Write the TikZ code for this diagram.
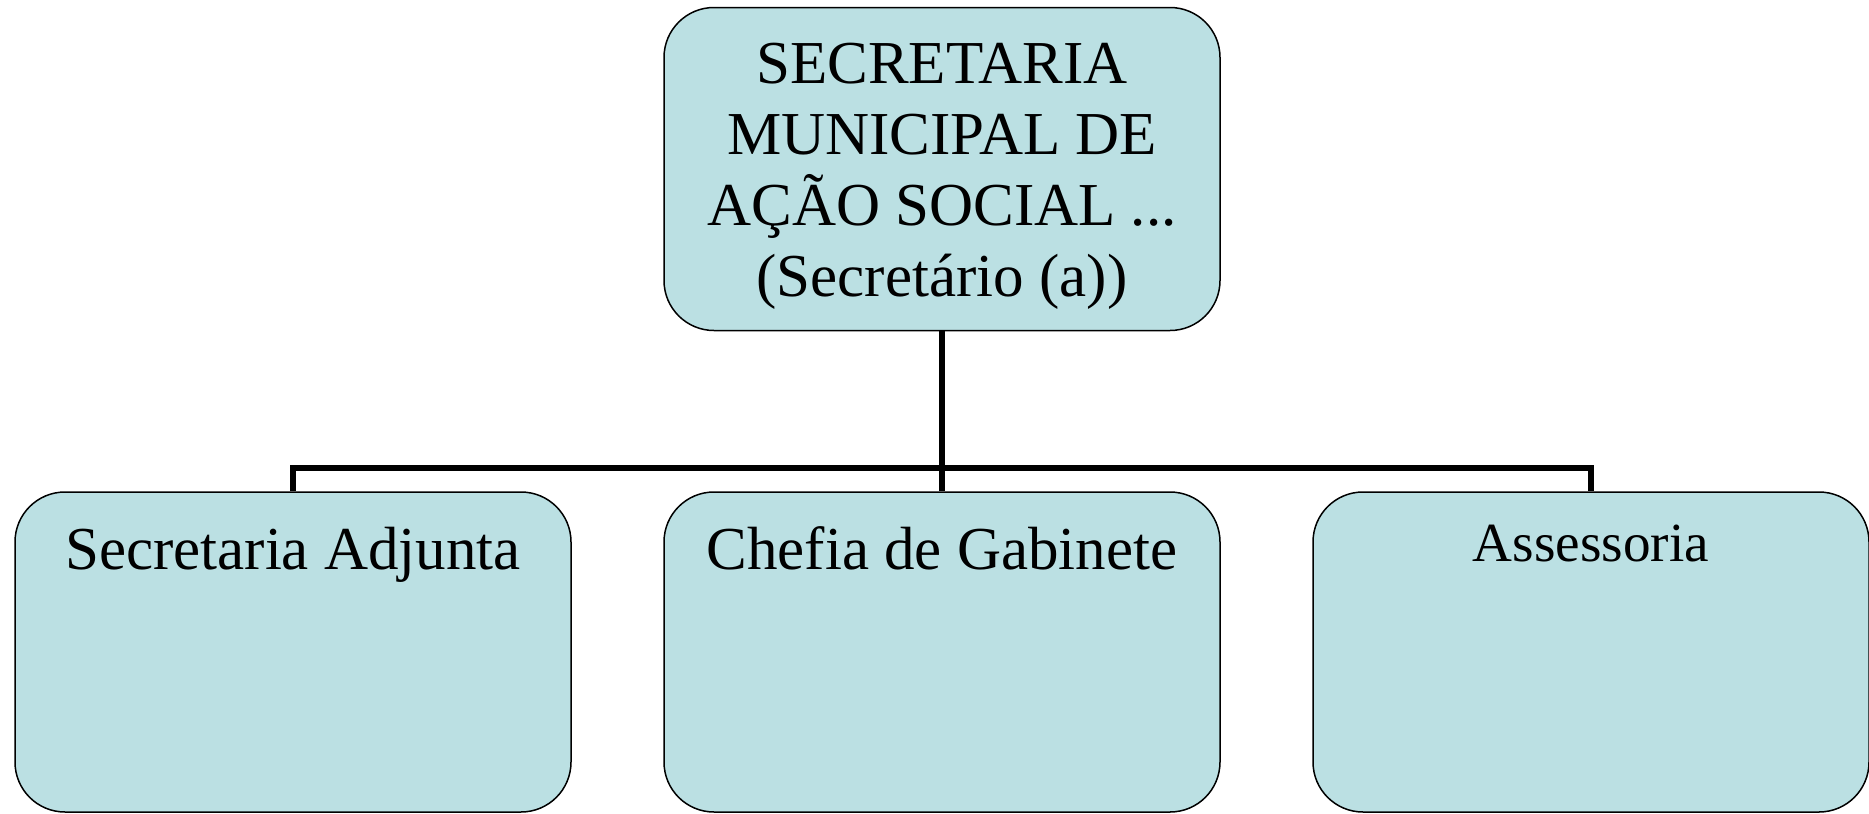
\documentclass[tikz,border=0pt]{standalone}
\usepackage{fontspec}
\setmainfont{Liberation Serif}
\definecolor{boxfill}{RGB}{187,224,227}

\begin{document}
\begin{tikzpicture}[x=0.5pt,y=0.5pt,yscale=-1,xscale=1,
  unitbox/.style={draw, line width=0.75pt, fill=boxfill, rounded corners=25pt, minimum width=278pt, minimum height=160pt, inner sep=0pt},
  unittxt/.style={inner sep=0pt, align=center, font=\fontsize{30.5}{35.5}\selectfont},
  tree/.style={line width=2.75pt}]
\useasboundingbox (0,0) rectangle (1869,814);

%Shape: Rounded Rect [top]
\node [unitbox, minimum height=161.5pt] (secretaria) at (942,169) {};
%Shape: Rounded Rect [bottom row]
\node [unitbox] (adjunta) at (293,652) {};
\node [unitbox] (gabinete) at (942,652) {};
\node [unitbox] (assessoria) at (1591,652) {};

%Straight Lines
\coordinate (bar) at (942,468);
\draw [tree] (secretaria.south) -- (gabinete.north) ;
\draw [tree] (adjunta.north) -- (adjunta.north |- bar) -- (assessoria.north |- bar) -- (assessoria.north) ;

% Text Node
\node [unittxt, anchor=north] (secretariatxt) at (942,43) {SECRETARIA\\MUNICIPAL DE\\AÇÃO SOCIAL ...\\(Secretário (a))};
% Text Node
\node [unittxt, anchor=base] (adjuntatxt) at ([yshift=39pt]adjunta.north) {Secretaria Adjunta};
% Text Node
\node [unittxt, anchor=base] (gabinetetxt) at ([yshift=39pt]gabinete.north) {Chefia de Gabinete};
% Text Node
\node [unittxt, anchor=base, font=\fontsize{27.6}{32}\selectfont] (assessoriatxt) at ([yshift=35pt]assessoria.north) {Assessoria};

\end{tikzpicture}
\end{document}
